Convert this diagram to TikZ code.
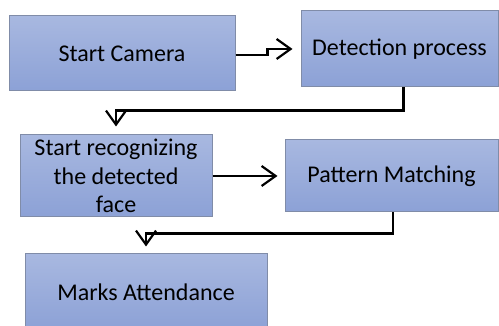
\documentclass[tikz,border=0pt]{standalone}
\usepackage{fontspec}
\setmainfont{Carlito}
\usetikzlibrary{arrows.meta}
\definecolor{boxtop}{RGB}{168,184,224}
\definecolor{boxbot}{RGB}{140,161,214}
\definecolor{boxline}{RGB}{128,140,168}
\tikzset{
  box/.style={draw=boxline, line width=1pt, top color=boxtop, bottom color=boxbot,
    inner sep=0pt, align=center, font=\fontsize{24}{28.5}\selectfont, text=black},
  arr/.style={line width=2.2pt, -{Straight Barb[length=14pt,width=20pt,line width=2.2pt]}}
}
\begin{document}
\begin{tikzpicture}[x=1pt,y=1pt]
\useasboundingbox (0,0) rectangle (499,326);
\node[box, minimum width=226pt, minimum height=75pt] (b1) at (122,272.5) {Start Camera};
\node[box, minimum width=197pt, minimum height=76pt] (b2) at (399.5,277) {Detection process};
\node[box, minimum width=192pt, minimum height=82pt] (b3) at (116,150) {\raisebox{0pt}{Start recognizing}\\the detected\\face};
\node[box, minimum width=213pt, minimum height=72pt] (b4) at (391.5,150) {Pattern Matching};
\node[box, minimum width=242pt, minimum height=76pt] (b5) at (146,34) {Marks Attendance};
\draw[arr, shorten >=8pt] ([yshift=-1.5pt]b1.east) -- ++(32,0) |- (b2.west);
\draw[arr] ([xshift=4pt]b2.south) -- ++(0,-23) -| ([yshift=8pt]b3.north);
\draw[arr, shorten >=7pt] (b3.east) -- (b4.west);
\draw[arr] ([xshift=1.5pt]b4.south) -- ++(0,-21) -| ([yshift=7pt]b5.north);
\end{tikzpicture}
\end{document}
